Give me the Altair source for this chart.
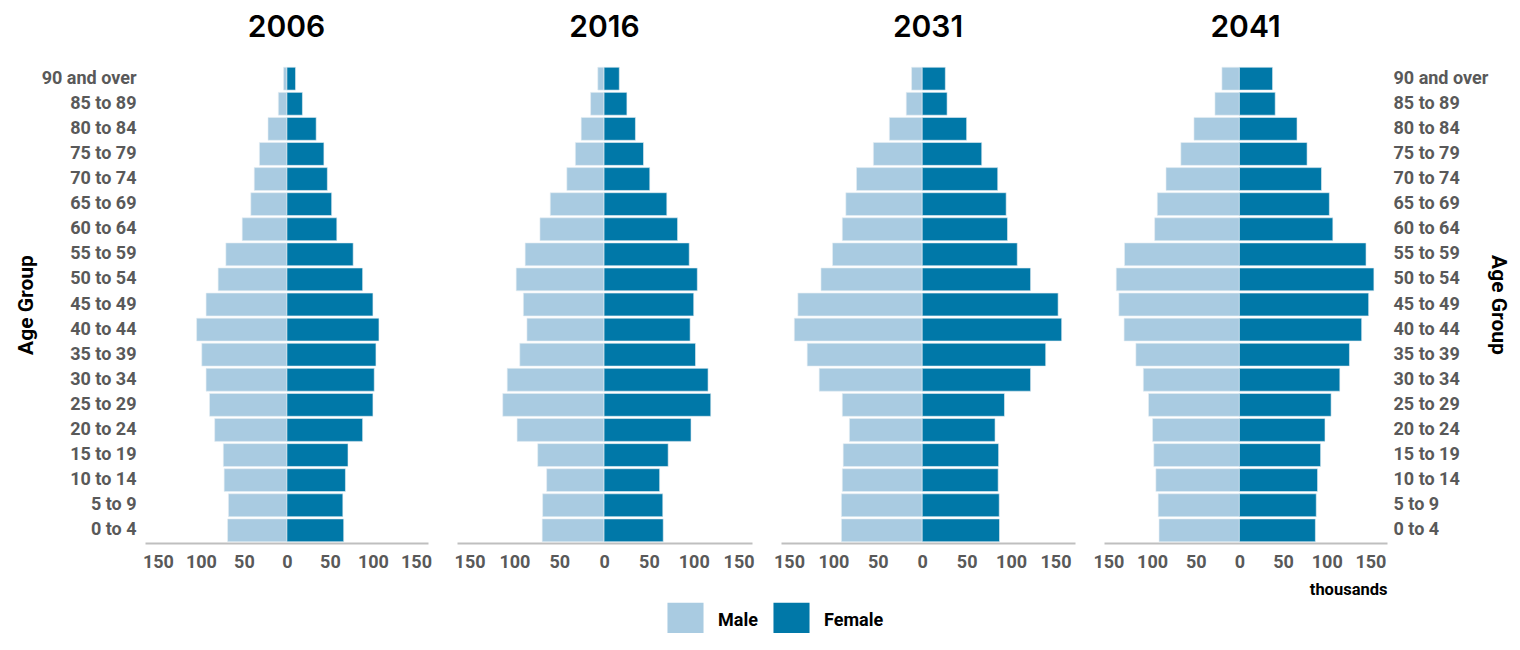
import altair as alt
import pandas as pd

ages = ["0 to 4", "5 to 9", "10 to 14", "15 to 19", "20 to 24", "25 to 29", "30 to 34",
        "35 to 39", "40 to 44", "45 to 49", "50 to 54", "55 to 59", "60 to 64", "65 to 69",
        "70 to 74", "75 to 79", "80 to 84", "85 to 89", "90 and over"]
years = ["2006", "2016", "2031", "2041"]

male_2006 = [69, 68, 73, 74, 84, 90, 94, 99, 105, 94, 80, 71, 52, 42, 38, 32, 22, 10, 4]
female_2006 = [66, 65, 68, 71, 88, 100, 101.5, 103.5, 107, 100, 88, 77, 58, 52, 47, 43, 34, 18, 10]
male_2016 = [69, 68.5, 64, 74, 97, 113, 108, 94, 86, 90, 98, 88, 71.5, 60, 41.5, 32, 25.5, 15, 7]
female_2016 = [66, 65.5, 62, 71.5, 97, 119, 116, 102, 96, 100, 104, 95, 82, 70, 51, 44, 35, 25.5, 17]
male_2031 = [91, 91, 90, 89, 82, 90, 116, 129.5, 144, 140, 114, 101, 90, 86, 74, 55, 37, 18, 12]
female_2031 = [87, 86.7, 85.5, 86, 82, 92.6, 122, 139, 157, 153, 122, 107, 96, 94.5, 85, 67, 50, 28, 26]
male_2041 = [92, 93, 95.6, 98, 99.4, 104, 110, 118.5, 132, 138, 141, 131.5, 97, 94, 84, 67, 52, 28, 20]
female_2041 = [87, 88, 89.5, 93, 98, 105, 115, 126, 140, 148, 154, 145, 107, 103, 94, 77.5, 66, 41, 38]

series = {
    "2006": (male_2006, female_2006),
    "2016": (male_2016, female_2016),
    "2031": (male_2031, female_2031),
    "2041": (male_2041, female_2041),
}

rows = []
for yr in years:
    m, f = series[yr]
    for a, mv, fv in zip(ages, m, f):
        rows.append({"year": yr, "age": a, "sex": "Male", "value": mv, "signed": -mv})
        rows.append({"year": yr, "age": a, "sex": "Female", "value": fv, "signed": fv})
df = pd.DataFrame(rows)

FONT = "Roboto, Liberation Sans, sans-serif"
domains = {"2006": [-165, 164], "2016": [-164, 165], "2031": [-159, 172], "2041": [-155, 169]}
widths = {"2006": 283, "2016": 295, "2031": 294, "2041": 283}
age_order = list(reversed(ages))


def panel(yr, idx):
    d = df[df["year"] == yr]
    xaxis_kwargs = dict(
        values=[-150, -100, -50, 0, 50, 100, 150],
        labelExpr="abs(datum.value)",
        ticks=False, grid=False,
        domainColor="#bfbfbf", domainWidth=2,
        labelFont=FONT, labelFontSize=18, labelFontWeight="bold", labelColor="#595959",
        labelPadding=10, labelFlush=False,
    )
    if idx == 3:
        xaxis = alt.Axis(title="thousands", titleAnchor="end", titleFont=FONT,
                         titleFontSize=16.5, titleFontWeight="bold", titleColor="black",
                         titlePadding=10, **xaxis_kwargs)
    else:
        xaxis = alt.Axis(title=None, **xaxis_kwargs)

    ykw = dict(ticks=False, domain=False, grid=False,
               labelFont=FONT, labelFontSize=18, labelFontWeight="bold", labelColor="#595959",
               title="Age Group", titleFont=FONT, titleFontSize=21, titleFontWeight="bold",
               titleColor="black")
    if idx == 0:
        yaxis = alt.Axis(orient="left", labelPadding=9, titlePadding=5, **ykw)
    elif idx == 3:
        yaxis = alt.Axis(orient="right", labelPadding=6, titlePadding=0, titleAngle=90,
                         **ykw)
    else:
        yaxis = None

    return alt.Chart(d).mark_bar(stroke="#e6eef4", strokeWidth=0.6).encode(
        x=alt.X("signed:Q", scale=alt.Scale(domain=domains[yr], nice=False), axis=xaxis),
        y=alt.Y("age:N", sort=age_order,
                scale=alt.Scale(paddingInner=0.09, paddingOuter=0.05), axis=yaxis),
        color=alt.Color("sex:N",
                        scale=alt.Scale(domain=["Male", "Female"], range=["#a9cbe1", "#0078a8"]),
                        legend=alt.Legend(title=None, orient="none", direction="horizontal",
                                          legendX=522, legendY=536,
                                          symbolType="square", symbolSize=1300,
                                          symbolStrokeWidth=0, symbolOpacity=1,
                                          labelFont=FONT, labelFontSize=18,
                                          labelFontWeight="bold", labelColor="black",
                                          labelOffset=14, columnPadding=15)),
    ).properties(
        width=widths[yr], height=477,
        title=alt.TitleParams(yr, fontSize=30, font="Inter", fontWeight=600,
                              color="black", offset=23, anchor="middle"),
    )


chart = alt.hconcat(*[panel(yr, i) for i, yr in enumerate(years)], spacing=29,
                    bounds="flush").properties(
    padding={"left": 7, "top": 5, "right": 3, "bottom": -6}
).configure(font=FONT).configure_view(stroke=None)

chart.save("out.html", embed_options={"renderer": "svg", "actions": False})
